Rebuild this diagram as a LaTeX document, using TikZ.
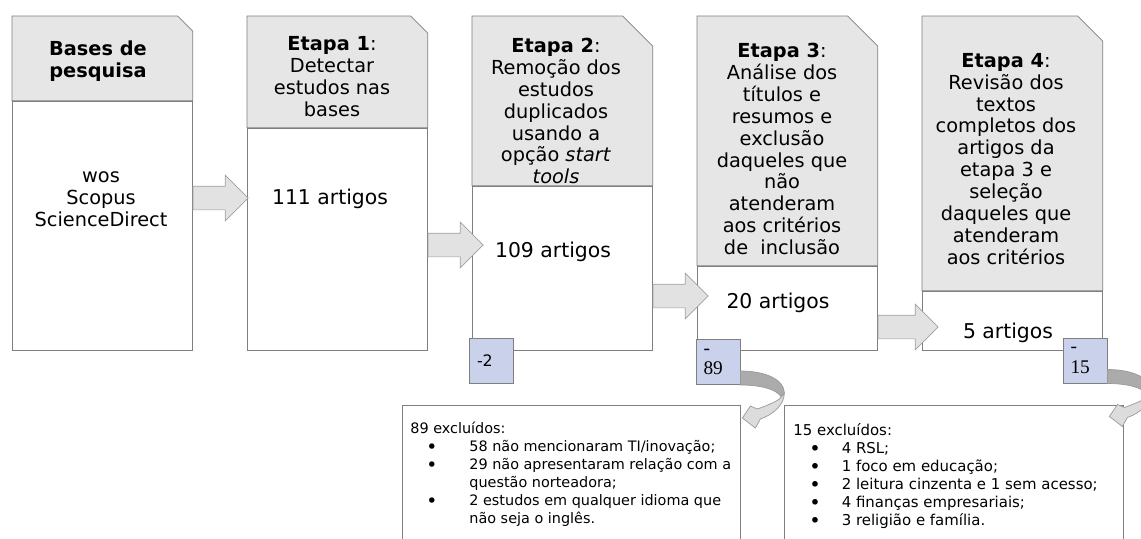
\documentclass[tikz,border=0pt]{standalone}
\usepackage{fontspec}
\setmainfont{DejaVu Sans}
\newfontfamily\numfont{Liberation Serif}
\usetikzlibrary{shapes.arrows,positioning,calc}
\definecolor{boxline}{HTML}{7F7F7F}
\definecolor{headfill}{HTML}{E7E6E6}
\definecolor{arrowfill}{HTML}{E2E2E2}
\definecolor{arrowline}{HTML}{A0A0A0}
\definecolor{countfill}{HTML}{CAD1EA}
\definecolor{curveback}{HTML}{ABABAB}
\definecolor{curvefront}{HTML}{DCDCDC}
\newcommand{\bigdot}{\raisebox{-0.25ex}{\scalebox{1.3}{\textbullet}}}

\begin{document}
\begin{tikzpicture}[x=0.02cm, y=-0.02cm,
        header/.style={rectangle, minimum width=3.6cm, inner sep=0pt, anchor=north west},
        headshape/.style={draw=boxline, fill=headfill},
        body/.style={rectangle, draw=boxline, fill=white, minimum width=3.6cm, inner sep=0pt, anchor=north west},
        title/.style={align=center, inner sep=0pt, font=\fontsize{11}{12.5}\selectfont},
        total/.style={inner sep=0pt, font=\fontsize{11.6}{13}\selectfont},
        flow/.style={single arrow, draw=arrowline, fill=arrowfill, minimum width=0.9cm, single arrow head extend=0.22cm, inner xsep=0pt, inner ysep=0.23cm, anchor=tail},
        count/.style={rectangle, draw=boxline, fill=countfill, minimum width=0.88cm, minimum height=0.9cm, text width=0.58cm, inner xsep=0.15cm, align=left, font=\numfont\fontsize{11}{11.5}\selectfont},
        excl/.style={rectangle, draw=boxline, fill=white, minimum height=3.1cm, inner sep=0pt, anchor=north west},
        excltext/.style={inner sep=0pt, anchor=north west, font=\fontsize{8.5}{10.2}\selectfont},
        curveline/.style={draw=boxline!80, line width=0.4pt}
    ]
        \useasboundingbox (0,0) rectangle (1141,538);
        \clip (0,0) rectangle (1141,538);

        % headers (snipped top right corner) and bodies
        \node[header, minimum height=1.68cm] (h0) at (12,16) {};
        \node[header, minimum height=2.22cm] (h1) at (247,16) {};
        \node[header, minimum height=3.38cm] (h2) at (472,16) {};
        \node[header, minimum height=4.98cm] (h3) at (697,16) {};
        \node[header, minimum height=5.48cm] (h4) at (922,16) {};
        \foreach \h/\c in {h0/15, h1/17, h2/30, h3/30, h4/25}
            \draw[headshape] (\h.south west) |- ($(\h.north east)+(-\c,0)$) -- ($(\h.north east)+(0,\c)$) |- cycle;

        \node[body, minimum height=4.98cm] (b0) at (h0.south west) {};
        \node[body, minimum height=4.44cm] (b1) at (h1.south west) {};
        \node[body, minimum height=3.28cm] (b2) at (h2.south west) {};
        \node[body, minimum height=1.68cm] (b3) at (h3.south west) {};
        \node[body, minimum height=1.18cm] (b4) at (h4.south west) {};

        \node[title] (t0) at (98,61) {\textbf{Bases de}\\\textbf{pesquisa}};
        \node[title] (t1) at (332,77) {\textbf{Etapa 1}:\\Detectar\\estudos nas\\bases};
        \node[title] (t2) at (556,111) {\textbf{Etapa 2}:\\Remoção dos\\estudos\\duplicados\\usando a\\opção \textit{start}\\\textit{tools}};
        \node[title] (t3) at (782,149) {\textbf{Etapa 3}:\\Análise dos\\títulos e\\resumos e\\exclusão\\daqueles que\\não\\atenderam\\aos critérios\\de\ \ inclusão};
        \node[title] (t4) at (1006,159) {\textbf{Etapa 4}:\\Revisão dos\\textos\\completos dos\\artigos da\\etapa 3 e\\seleção\\daqueles que\\atenderam\\aos critérios};

        \node[title] (n0) at (101,199) {wos\\Scopus\\ScienceDirect};
        \node[total] (n1) at (330,199) {111 artigos};
        \node[total] (n2) at (553,252) {109 artigos};
        \node[total] (n3) at (778,303) {20 artigos};
        \node[total] (n4) at (1008,333) {5 artigos};

        % block arrows between the stages
        \node[flow, minimum height=1.1cm] (f01) at (b0.east |- 0,198) {};
        \node[flow, minimum height=1.1cm] (f12) at (b1.east |- 0,245) {};
        \node[flow, minimum height=1.1cm] (f23) at (b2.east |- 0,296) {};
        \node[flow, minimum height=1.2cm] (f34) at (b3.east |- 0,327) {};

        % removed counts
        \node[count, font=\fontsize{9}{11}\selectfont] (s2) at (491.5,360.5) {-2};
        \node[count] (s89) at (718,362) {-\\89};
        \node[count] (s15) at (1085,360.5) {-\\15};

        % excluded lists
        \node[excl, minimum width=6.76cm] (e89) at (402,405) {};
        \node[excl, minimum width=6.78cm] (e15) at (784,405) {};

        \node[excltext, font=\fontsize{8.2}{10.2}\selectfont] (x89) at (410,421) {\begin{tabular}{@{\hspace{0.32cm}}l@{\hspace{0.64cm}}l@{}}
            \multicolumn{2}{@{}l}{89 excluídos:}\\
            \bigdot & 58 não mencionaram TI/inovação;\\
            \bigdot & 29 não apresentaram relação com a\\
                    & questão norteadora;\\
            \bigdot & 2 estudos em qualquer idioma que\\
                    & não seja o inglês.
        \end{tabular}};
        \node[excltext] (x15) at (793,423) {\begin{tabular}{@{\hspace{0.32cm}}l@{\hspace{0.42cm}}l@{}}
            \multicolumn{2}{@{}l}{15 excluídos:}\\
            \bigdot & 4 RSL;\\
            \bigdot & 1 foco em educação;\\
            \bigdot & 2 leitura cinzenta e 1 sem acesso;\\
            \bigdot & 4 finanças empresariais;\\
            \bigdot & 3 religião e família.
        \end{tabular}};

        % curved arrows from the counts to the lists
        \foreach \src in {s89,s15}{
            \begin{scope}[shift={($(\src.east)+(0,9)$)}]
                \draw[curveline, fill=curveback] (0,0) .. controls (26,0) and (44,9) .. (44,22) -- (41,26) .. controls (36,18) and (20,14) .. (0,14) -- cycle;
                \draw[curveline, fill=curvefront] (44,22) .. controls (44,34) and (32,44) .. (20,48) -- (15,57) -- (2,47) -- (10,35) -- (17,38) .. controls (28,34) and (38,30) .. (41,26) -- cycle;
            \end{scope}
        }
    \end{tikzpicture}
\end{document}
